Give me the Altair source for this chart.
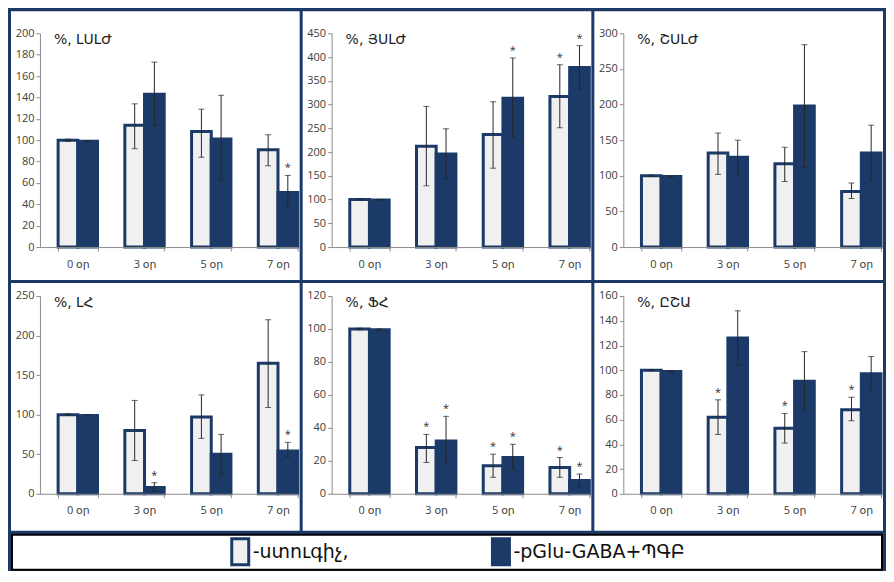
import altair as alt
import pandas as pd

# ---------------- data ----------------
days = ["0 օր", "3 օր", "5 օր", "7 օր"]
groups = ["ստուգիչ", "pGlu-GABA+ՊԳԲ"]
titles = ["%, ԼՍԼԺ", "%, ՅՍԼԺ", "%, ՇՍԼԺ", "%, ԼՀ", "%, ՖՀ", "%, ԸՇԱ"]

y_ticks = [
    [0, 20, 40, 60, 80, 100, 120, 140, 160, 180, 200],
    [0, 50, 100, 150, 200, 250, 300, 350, 400, 450],
    [0, 50, 100, 150, 200, 250, 300],
    [0, 50, 100, 150, 200, 250],
    [0, 20, 40, 60, 80, 100, 120],
    [0, 20, 40, 60, 80, 100, 120, 140, 160],
]

# control group (light bars)
ctrl_mean = [
    [100, 114, 108, 91],
    [100, 212, 237, 317],
    [100, 132, 117, 78],
    [100, 80, 97, 165],
    [100, 28, 17, 16],
    [100, 62, 53, 68],
]
ctrl_lo = [
    [99, 92, 84, 76],
    [99, 129, 166, 251],
    [99, 102, 92, 68],
    [99, 42, 70, 109],
    [99.5, 19, 10, 10],
    [99.5, 48, 41, 59],
]
ctrl_hi = [
    [101, 134, 129, 105],
    [101, 296, 306, 384],
    [101, 160, 140, 90],
    [101, 118, 125, 220],
    [100.5, 36, 24, 22],
    [100.5, 76, 65, 78],
]
ctrl_sig = [
    [0, 0, 0, 0],
    [0, 0, 0, 1],
    [0, 0, 0, 0],
    [0, 0, 0, 0],
    [0, 1, 1, 1],
    [0, 1, 1, 1],
]

# pGlu-GABA + treatment group (dark bars)
trt_mean = [
    [99, 143, 101, 51],
    [99, 196, 313, 378],
    [99, 126, 198, 132],
    [99, 8, 50, 54],
    [99.5, 32, 22, 8],
    [99, 126, 91, 97],
]
trt_lo = [
    [98.5, 114, 63, 37],
    [98, 144, 231, 332],
    [98, 101, 112, 93],
    [98, 3, 25, 47],
    [99, 18, 15, 4],
    [98.5, 104, 68, 84],
]
trt_hi = [
    [99.5, 173, 142, 67],
    [100, 249, 398, 424],
    [100, 150, 284, 171],
    [100, 14, 75, 65],
    [100, 47, 30, 12],
    [99.5, 148, 115, 111],
]
trt_sig = [
    [0, 0, 0, 1],
    [0, 0, 1, 1],
    [0, 0, 0, 0],
    [0, 1, 0, 1],
    [0, 1, 1, 1],
    [0, 0, 0, 0],
]

# ---------------- style ----------------
NAVY = "#1B3A68"
LIGHT = "#F0F0F0"
AXIS_GRAY = "#8C8C8C"
LABEL = "#404040"
FONT = "Open Sans, DejaVu Sans"
ARM_FONT = "DejaVu Sans"
GAP = 3                       # navy border between panels

L, W, R = 29, 258, 2          # left gutter, plot width, right gutter
VW = L + W + R                # whole panel width
ROWS = [dict(T=22, H=214, B=33), dict(T=13, H=198, B=37)]
NO_STROKE = dict(strokeOpacity=0, strokeWidth=0)


def panel_df(i):
    rows = []
    for d, day in enumerate(days):
        rows.append(dict(day=day, group=groups[0], val=ctrl_mean[i][d],
                         lo=ctrl_lo[i][d], hi=ctrl_hi[i][d], sig=ctrl_sig[i][d]))
        rows.append(dict(day=day, group=groups[1], val=trt_mean[i][d],
                         lo=trt_lo[i][d], hi=trt_hi[i][d], sig=trt_sig[i][d]))
    return pd.DataFrame(rows)


def make_panel(i, T, H, B):
    df = panel_df(i)
    ticks = y_ticks[i]
    one = pd.DataFrame({"k": [0]})
    VH = T + H + B

    xenc = alt.X(
        "day:N", sort=days, title=None,
        scale=alt.Scale(paddingInner=0.41, paddingOuter=0.136, align=1,
                        range=[L, L + W]),
        axis=alt.Axis(labelAngle=0, domainColor=AXIS_GRAY, tickColor=AXIS_GRAY,
                      tickSize=4, tickBand="extent", labelPadding=7, offset=-B,
                      labelFontSize=11, labelFont=FONT, labelColor=LABEL, zindex=1),
    )
    xoff = alt.XOffset("group:N", sort=groups,
                       scale=alt.Scale(paddingInner=0, paddingOuter=0))
    yscale = alt.Scale(domain=[ticks[0], ticks[-1]], nice=False, range=[T + H, T])
    yaxis = alt.Axis(values=ticks, tickCount=len(ticks), grid=False,
                     domainColor=AXIS_GRAY, tickColor=AXIS_GRAY, tickSize=4,
                     labelPadding=2, offset=-L, labelOverlap=False,
                     labelFontSize=11, labelFont=FONT, labelColor=LABEL, zindex=1)

    def Y(field):
        return alt.Y(field, scale=yscale, axis=yaxis, title=None)

    base = alt.Chart(df).encode(x=xenc, xOffset=xoff)

    bars = base.mark_bar(stroke=NAVY, strokeWidth=3).encode(
        y=Y("val:Q"),
        fill=alt.Fill("group:N", scale=alt.Scale(domain=groups, range=[LIGHT, NAVY]),
                      legend=None),
    )
    err = base.mark_rule(color="#262626", strokeWidth=1).encode(
        y=Y("lo:Q"), y2="hi:Q")
    cap_hi = base.mark_tick(color="#262626", thickness=1, size=6).encode(y=Y("hi:Q"))
    cap_lo = base.mark_tick(color="#262626", thickness=1, size=6).encode(y=Y("lo:Q"))
    stars = base.transform_filter(alt.datum.sig == 1).mark_text(
        text="*", fontSize=11, color="#333333", dy=-7, font=FONT
    ).encode(y=Y("hi:Q"))

    title = alt.Chart(one).mark_text(
        align="left", baseline="middle", fontSize=14, color="#222222", font=ARM_FONT
    ).encode(x=alt.value(L + 14), y=alt.value(T + 7), text=alt.value(titles[i]))

    return alt.layer(bars, err, cap_hi, cap_lo, stars, title).properties(
        width=VW, height=VH,
        view=alt.ViewBackground(fill="white", **NO_STROKE))


top = alt.hconcat(*[make_panel(i, **ROWS[0]) for i in range(3)], spacing=GAP)
bottom = alt.hconcat(*[make_panel(i, **ROWS[1]) for i in range(3, 6)], spacing=GAP)

# ---------------- legend box ----------------
LW, LH = 3 * VW + 2 * GAP, 37
one = pd.DataFrame({"k": [0]})
inner = alt.Chart(one).mark_rect(fill="white").encode(
    x=alt.value(2), x2=alt.value(LW - 2), y=alt.value(2), y2=alt.value(LH - 2))
sw1 = alt.Chart(one).mark_rect(fill=LIGHT, stroke=NAVY, strokeWidth=3).encode(
    x=alt.value(221), x2=alt.value(238), y=alt.value(5), y2=alt.value(31))
sw2 = alt.Chart(one).mark_rect(fill=NAVY, stroke=NAVY, strokeWidth=3).encode(
    x=alt.value(482), x2=alt.value(499), y=alt.value(5), y2=alt.value(31))
tx1 = alt.Chart(one).mark_text(align="left", baseline="middle", fontSize=19,
                               color="#111111", font=ARM_FONT).encode(
    x=alt.value(242), y=alt.value(18), text=alt.value("-" + groups[0] + ","))
tx2 = alt.Chart(one).mark_text(align="left", baseline="middle", fontSize=19,
                               color="#111111", font=ARM_FONT).encode(
    x=alt.value(503), y=alt.value(18), text=alt.value("-" + groups[1]))
legend = alt.layer(inner, sw1, sw2, tx1, tx2).properties(
    width=LW, height=LH,
    view=alt.ViewBackground(fill="black", **NO_STROKE))

chart = alt.vconcat(top, bottom, legend, spacing=GAP).properties(
    padding={"left": GAP, "top": GAP, "right": GAP, "bottom": 0},
    background=NAVY,
)

chart.save("out.html", embed_options={"renderer": "svg", "actions": False})
